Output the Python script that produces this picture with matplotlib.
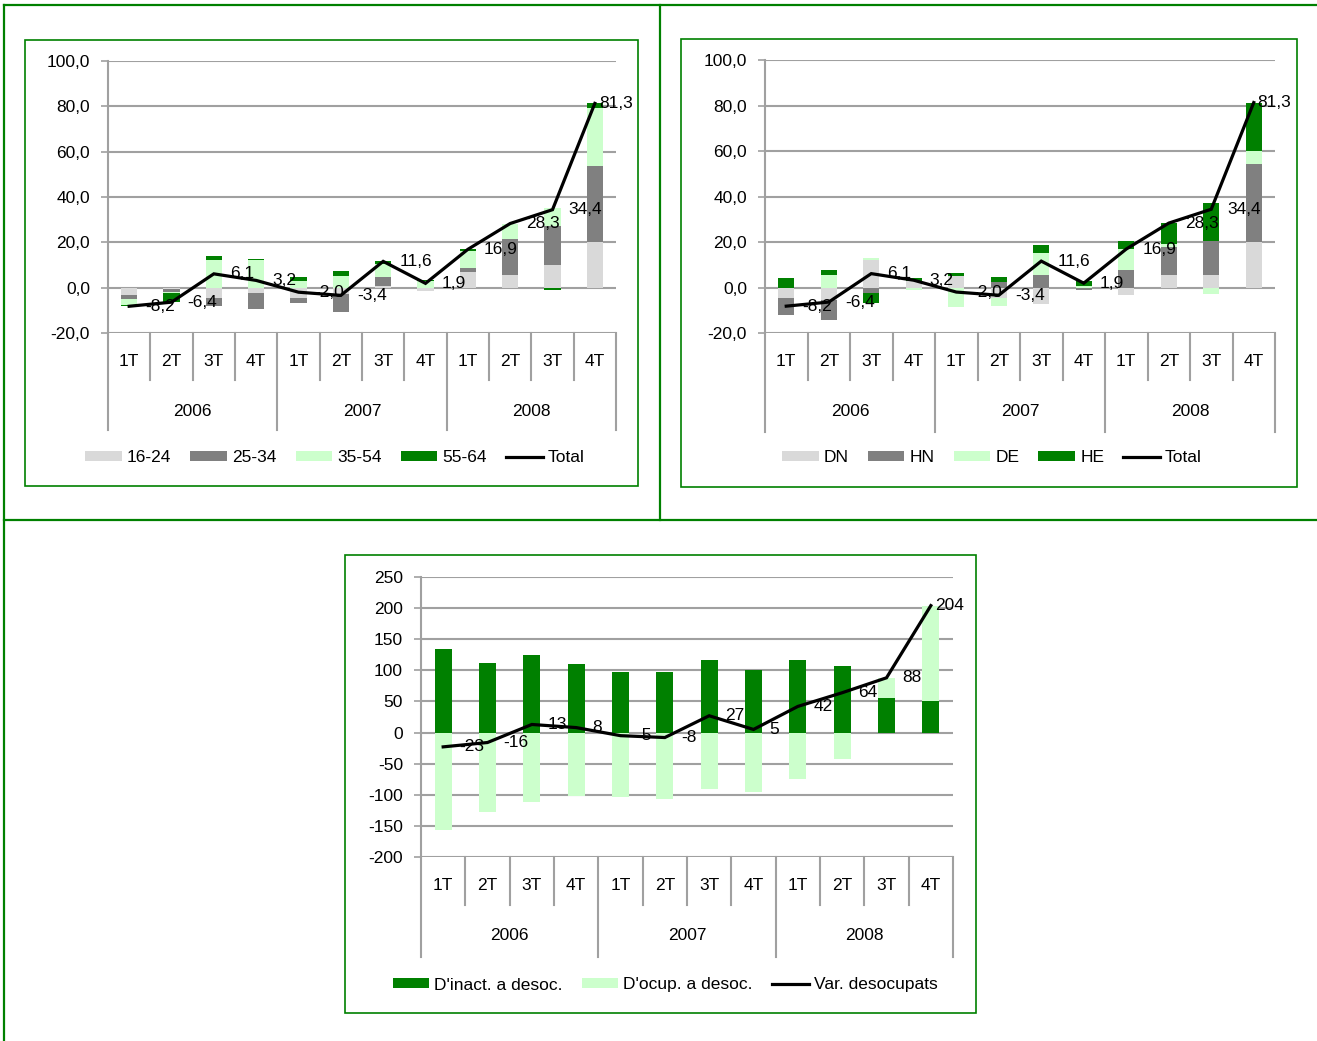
import matplotlib
matplotlib.use('Agg')
import matplotlib.pyplot as plt
from matplotlib.patches import Rectangle, Patch
from matplotlib.lines import Line2D

plt.rcParams['font.family'] = ['Liberation Sans', 'DejaVu Sans']

# ---------------- data ----------------
quarters = ['1T', '2T', '3T', '4T'] * 3
years = ['2006', '2007', '2008']

# chart 1: by age group
age_labels = ['16-24', '25-34', '35-54', '55-64']
age_16_24 = [-3.2, -0.8, -4.5, -2.4, -4.6, -2.7, 0.6, -1.6, 6.8, 5.6, 10.1, 20.3]
age_25_34 = [-1.8, -1.2, -3.5, -7.1, -2.1, -7.9, 4.2, 0.0, 1.8, 16.0, 16.9, 33.2]
age_35_54 = [-2.6, -0.4, 12.0, 12.1, 3.1, 5.0, 5.6, 3.0, 7.7, 6.4, 8.3, 25.7]
age_55_64 = [-0.6, -4.0, 2.1, 0.6, 1.6, 2.2, 1.2, 0.5, 0.6, 0.3, -0.9, 2.1]
total = [-8.2, -6.4, 6.1, 3.2, -2.0, -3.4, 11.6, 1.9, 16.9, 28.3, 34.4, 81.3]

# chart 2: by sex / nationality
grp_labels = ['DN', 'HN', 'DE', 'HE']
grp_DN = [-4.6, -5.3, 12.1, 2.8, 5.0, -4.8, -7.1, -0.3, -3.5, 5.4, 5.4, 20.0]
grp_HN = [-7.7, -9.0, -2.4, 0.0, 0.0, 2.4, 5.4, -0.6, 7.9, 12.5, 14.9, 34.1]
grp_DE = [0.0, 5.5, 1.0, -1.0, -8.4, -3.4, 9.6, 0.6, 9.1, 1.2, -2.9, 5.7]
grp_HE = [4.1, 2.4, -4.6, 1.4, 1.4, 2.4, 3.7, 2.2, 3.4, 9.2, 17.0, 21.5]

# chart 3: flows into unemployment
flow_labels = ["D'inact. a desoc.", "D'ocup. a desoc.", "Var. desocupats"]
from_inactive = [134, 112, 124, 110, 98, 98, 117, 101, 117, 107, 56, 51]
from_employed = [-157, -128, -111, -102, -103, -106, -90, -96, -75, -43, 32, 153]
var_unemployed = [-23, -16, 13, 8, -5, -8, 27, 5, 42, 64, 88, 204]

total_label = 'Total'

# ---------------- style ----------------
W, H = 1317, 1041
FS = 12.5
GREEN = '#008000'
LGREEN = '#CCFFCC'
LGRAY = '#D9D9D9'
DGRAY = '#808080'
GRID = '#A0A0A0'

fig = plt.figure(figsize=(W / 100, H / 100), dpi=100)


def fx(px):
    return px / W


def fy(py):
    return 1 - py / H


def add_axes_px(x0, y0, x1, y1):
    return fig.add_axes([fx(x0), fy(y1), fx(x1 - x0), (y1 - y0) / H])


def stacked(ax, series, colors, width=0.38):
    n = len(series[0])
    pos = [0.0] * n
    neg = [0.0] * n
    for vals, c in zip(series, colors):
        bottoms = []
        for i, v in enumerate(vals):
            if v >= 0:
                bottoms.append(pos[i])
                pos[i] += v
            else:
                bottoms.append(neg[i])
                neg[i] += v
        ax.bar(range(n), vals, bottom=bottoms, width=width, color=c,
               edgecolor='none', zorder=2)


def style_axes(ax, ymin, ymax, step, fmt, ax_h_px, qline, yline, qlab, ylab):
    ax.set_xlim(-0.5, 11.5)
    ax.set_ylim(ymin, ymax)
    ticks = list(range(ymin, ymax + 1, step))
    ax.set_yticks(ticks)
    ax.set_yticklabels([fmt(t) for t in ticks], fontsize=FS)
    ax.tick_params(axis='y', length=5, width=1.2, color=GRID, pad=8)
    ax.set_xticks([])
    for s in ['top', 'right', 'bottom']:
        ax.spines[s].set_visible(False)
    ax.spines['left'].set_color(GRID)
    ax.spines['left'].set_linewidth(1.5)
    for t in ticks:
        ax.axhline(t, color=GRID, lw=1.5, zorder=1)
    tr = ax.get_xaxis_transform()
    for i in range(13):
        depth = yline if i % 4 == 0 else qline
        ax.add_line(Line2D([i - 0.5, i - 0.5], [0, -depth / ax_h_px],
                           transform=tr, color=GRID, lw=1.5, clip_on=False))
    for i, q in enumerate(quarters):
        ax.text(i, -qlab / ax_h_px, q, transform=tr, ha='center', va='center',
                fontsize=FS)
    for j, yr in enumerate(years):
        ax.text(4 * j + 1.5, -ylab / ax_h_px, yr, transform=tr, ha='center',
                va='center', fontsize=FS)


def line_with_labels(ax, vals, fmt):
    ax.plot(range(len(vals)), vals, color='black', lw=2.3, zorder=4,
            solid_joinstyle='miter')
    for i, v in enumerate(vals):
        off = 4 if i == len(vals) - 1 else 16
        ax.annotate(fmt(v), (i, v), xytext=(off, 0), textcoords='offset pixels',
                    ha='left', va='center', fontsize=FS, zorder=5)


comma1 = lambda v: f'{v:.1f}'.replace('.', ',')
intfmt = lambda v: f'{v:.0f}'

# ---------------- chart 1 ----------------
ax1 = add_axes_px(108, 61, 616, 333)
stacked(ax1, [age_16_24, age_25_34, age_35_54, age_55_64],
        [LGRAY, DGRAY, LGREEN, GREEN])
style_axes(ax1, -20, 100, 20, comma1, 272, 47, 97, 28, 78)
line_with_labels(ax1, total, comma1)

# ---------------- chart 2 ----------------
ax2 = add_axes_px(765, 60, 1275, 333)
stacked(ax2, [grp_DN, grp_HN, grp_DE, grp_HE], [LGRAY, DGRAY, LGREEN, GREEN])
style_axes(ax2, -20, 100, 20, comma1, 273, 47, 99, 28, 78)
line_with_labels(ax2, total, comma1)

# ---------------- chart 3 ----------------
ax3 = add_axes_px(421, 577, 953, 857)
stacked(ax3, [from_inactive, from_employed], [GREEN, LGREEN])
style_axes(ax3, -200, 250, 50, intfmt, 280, 48, 100, 28, 79)
line_with_labels(ax3, var_unemployed, intfmt)

# ---------------- legends ----------------
def legend(labels, colors, line_label, cx, cy):
    handles = [Patch(facecolor=c, edgecolor='none') for c in colors]
    handles.append(Line2D([], [], color='black', lw=2.3))
    fig.legend(handles, labels + [line_label], loc='center',
               bbox_to_anchor=(fx(cx), fy(cy)), ncol=len(handles),
               frameon=False, fontsize=FS, handlelength=2.1,
               handleheight=0.5, handletextpad=0.3, columnspacing=1.1,
               borderaxespad=0, borderpad=0)


legend(age_labels, [LGRAY, DGRAY, LGREEN, GREEN], total_label, 335, 458)
legend(grp_labels, [LGRAY, DGRAY, LGREEN, GREEN], total_label, 992, 458)
legend(flow_labels[:2], [GREEN, LGREEN], flow_labels[2], 665, 985)

# ---------------- boxes and frame ----------------
for (x0, y0, x1, y1) in [(25, 40, 638, 486), (681, 39, 1297, 487),
                         (345, 555, 976, 1013)]:
    fig.add_artist(Rectangle((fx(x0), fy(y1)), fx(x1 - x0), (y1 - y0) / H,
                             transform=fig.transFigure, fill=False,
                             edgecolor=GREEN, lw=1.2))

for (xs, ys) in [((4, W), (5, 5)), ((4, 4), (5, H)), ((660, 660), (5, 520)),
                 ((4, W), (520, 520))]:
    fig.add_artist(Line2D([fx(x) for x in xs], [fy(y) for y in ys],
                          transform=fig.transFigure, color=GREEN, lw=1.6))

fig.savefig('out.png', dpi=100)
